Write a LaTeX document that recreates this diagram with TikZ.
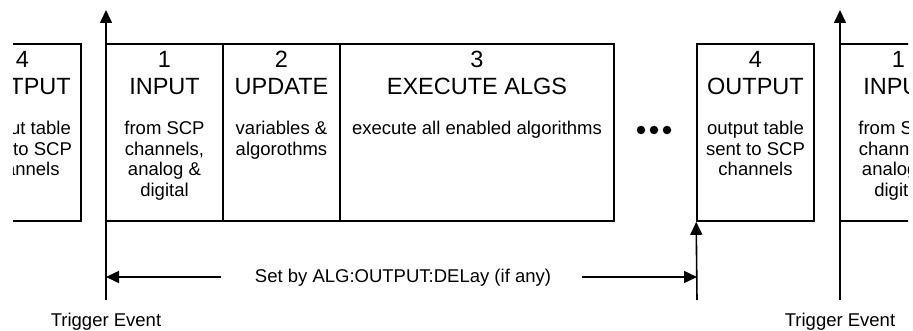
\documentclass[tikz,border=0pt]{standalone}
\usepackage{fontspec}
\setmainfont{Liberation Sans}
\usetikzlibrary{arrows.meta}
\begin{document}
\begin{tikzpicture}[x=1pt,y=-1pt,
  stage/.style={draw,line width=1.6pt,rectangle,minimum height=177pt,inner sep=0pt},
  num/.style={anchor=base,font=\fontsize{23.5}{25}\selectfont,inner sep=0pt},
  body/.style={anchor=base,align=center,font=\fontsize{18.5}{20.5}\selectfont,inner sep=0pt},
  lbl/.style={anchor=base,font=\fontsize{18.5}{21}\selectfont,inner sep=0pt},
  trig/.style={line width=1.6pt,-{Triangle[length=13pt,width=12pt]}},
  dotnode/.style={circle,fill,inner sep=0pt,minimum size=8.5pt}]
\useasboundingbox (0,0) rectangle (913,331);
\begin{scope}
\clip (13,0) rectangle (908,331);
% left partial box 4
\node[stage,minimum width=117pt] (b4l) at (22.5,132.5) {};
\node[num] (n4l) at (22.5,68) {4};
\node[num] (t4l) at (22.5,95) {OUTPUT};
\node[body] (d4l) at (22.5,176) {output table\\sent to SCP\\channels};
% right partial box 1
\node[stage,minimum width=117pt] (b1r) at (898.5,132.5) {};
\node[num] (n1r) at (898.5,68) {1};
\node[num] (t1r) at (898.5,95) {INPUT};
\node[body] (d1r) at (898.5,196.5) {from SCP\\channels,\\analog \&\\digital};
\end{scope}
% box 1
\node[stage,minimum width=117pt] (b1) at (164.5,132.5) {};
\node[num] (n1) at (164.5,68) {1};
\node[num] (t1) at (164.5,95) {INPUT};
\node[body] (d1) at (164.5,196.5) {from SCP\\channels,\\analog \&\\digital};
% box 2
\node[stage,minimum width=117pt] (b2) at (281.5,132.5) {};
\node[num] (n2) at (281.5,68) {2};
\node[num] (t2) at (281.5,95) {UPDATE};
\node[body] (d2) at (281.5,155.5) {variables \&\\algorothms};
% box 3
\node[stage,minimum width=274pt] (b3) at (477,132.5) {};
\node[num] (n3) at (477,68) {3};
\node[num] (t3) at (477,95) {EXECUTE ALGS};
\node[body] (d3) at (477,135) {execute all enabled algorithms};
% dots
\node[dotnode] (dt1) at (641,130) {};
\node[dotnode] (dt2) at (654,130) {};
\node[dotnode] (dt3) at (667,130) {};
% box 4
\node[stage,minimum width=117pt] (b4) at (755.5,132.5) {};
\node[num] (n4) at (755.5,68) {4};
\node[num] (t4) at (755.5,95) {OUTPUT};
\node[body] (d4) at (755.5,176) {output table\\sent to SCP\\channels};
% trigger lines
\coordinate (t1bot) at (106,300);
\coordinate (t1top) at (106,10);
\coordinate (t2bot) at (840,300);
\coordinate (t2top) at (840,10);
\draw[trig] (t1bot) -- (t1top);
\draw[trig] (t2bot) -- (t2top);
\coordinate (a4bot) at (697,300);
\draw[trig] (a4bot) -- (b4.south west);
% delay label
\node[lbl] (setby) at (403,283) {Set by ALG:OUTPUT:DELay (if any)};
\coordinate (la) at (221,277);
\coordinate (ra) at (582,277);
\draw[trig] (la) -- (la -| t1bot);
\draw[trig] (ra) -- (ra -| a4bot);
% trigger labels
\node[lbl] (te1) at (106,326) {Trigger Event};
\node[lbl] (te2) at (840,326) {Trigger Event};
\end{tikzpicture}
\end{document}
